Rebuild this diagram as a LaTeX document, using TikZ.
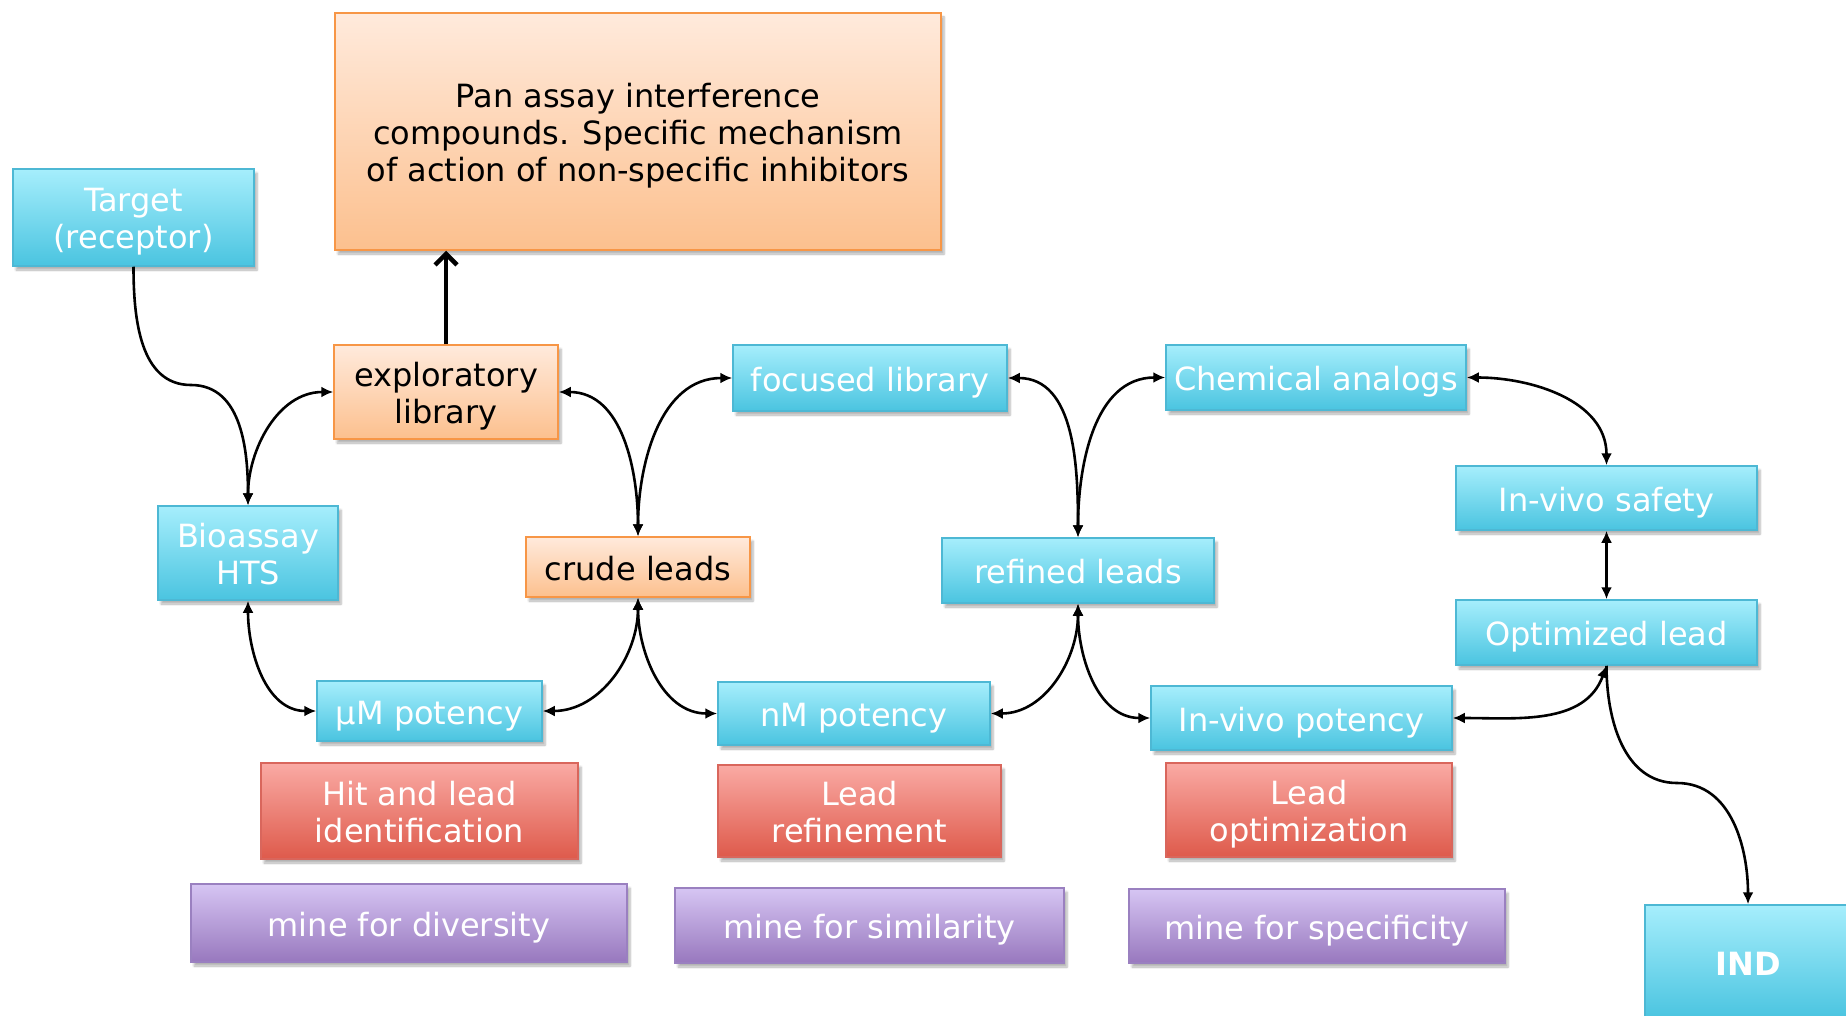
\documentclass[tikz,border=0pt]{standalone}
\usepackage{fontspec}
\setmainfont{DejaVu Sans}
\usetikzlibrary{shadows,shadows.blur,arrows.meta}
\definecolor{cyT}{HTML}{A6EEFC}
\definecolor{cyB}{HTML}{4AC4E0}
\definecolor{cyD}{HTML}{4DB8D4}
\definecolor{orT}{HTML}{FFEADC}
\definecolor{orB}{HTML}{FCC08E}
\definecolor{orD}{HTML}{F79646}
\definecolor{rdT}{HTML}{FAAAA4}
\definecolor{rdB}{HTML}{DE5A4B}
\definecolor{rdD}{HTML}{D9665C}
\definecolor{puT}{HTML}{D6C5F3}
\definecolor{puB}{HTML}{9878BE}
\definecolor{puD}{HTML}{9A80C0}
\newcommand\mytop{\rule{0pt}{34pt}}
\newcommand\mybot{\rule[-8pt]{0pt}{8pt}}
\tikzset{
  base/.style={rectangle, inner sep=0pt, align=center,
    font=\fontsize{32}{37}\selectfont, line width=1.5pt,
    blur shadow={shadow xshift=3pt, shadow yshift=-4pt, shadow blur steps=6, shadow opacity=30}},
  cybox/.style={base, draw=cyD, top color=cyT, bottom color=cyB, text=white},
  orbox/.style={base, draw=orD, top color=orT, bottom color=orB, text=black},
  rdbox/.style={base, draw=rdD, top color=rdT, bottom color=rdB, text=white},
  pubox/.style={base, draw=puD, top color=puT, bottom color=puB, text=white},
  conn/.style={line width=2.6pt, {Latex[length=12pt,width=11pt]}-{Latex[length=12pt,width=11pt]}},
  conn1/.style={line width=2.6pt, -{Latex[length=12pt,width=11pt]}},
  thick arrow/.style={line width=4.5pt, -{Straight Barb[length=11pt,width=22pt,line width=4.5pt]}},
}
\begin{document}
\begin{tikzpicture}[x=1pt,y=-1pt]
\useasboundingbox (0,0) rectangle (1846,1016);
\clip (0,0) rectangle (1846,1016);
% nodes
\node[orbox, minimum width=606, minimum height=237] (pan) at (638,131.5)
  {\mytop Pan assay interference\\compounds. Specific mechanism\\of action of non-specific inhibitors\mybot};
\node[cybox, minimum width=241, minimum height=97] (tgt) at (133.5,217.5) {\mytop Target\\(receptor)\mybot};
\node[orbox, minimum width=224, minimum height=94] (expl) at (446,392) {\mytop exploratory\\library\mybot};
\node[cybox, minimum width=180, minimum height=94] (bio) at (248,553) {\mytop Bioassay\\HTS\mybot};
\node[orbox, minimum width=224, minimum height=60] (crude) at (638,567) {\mytop crude leads\mybot};
\node[cybox, minimum width=274, minimum height=66] (foc) at (870,378) {\mytop focused library\mybot};
\node[cybox, minimum width=300, minimum height=65] (chem) at (1316,377.5) {\mytop Chemical analogs\mybot};
\node[cybox, minimum width=301, minimum height=64] (safe) at (1606.5,498) {\mytop In-vivo safety\mybot};
\node[cybox, minimum width=272, minimum height=65] (ref) at (1078,570.5) {\mytop refined leads\mybot};
\node[cybox, minimum width=301, minimum height=65] (opt) at (1606.5,632.5) {\mytop Optimized lead\mybot};
\node[cybox, minimum width=225, minimum height=60] (um) at (429.5,711) {\mytop μM potency\mybot};
\node[cybox, minimum width=272, minimum height=63] (nm) at (854,713.5) {\mytop nM potency\mybot};
\node[cybox, minimum width=301, minimum height=64] (ivp) at (1301.5,718) {\mytop In-vivo potency\mybot};
\node[rdbox, minimum width=317, minimum height=96] (hit) at (419.5,811) {\mytop Hit and lead\\identification\mybot};
\node[rdbox, minimum width=283, minimum height=92] (lref) at (859.5,811) {\mytop Lead\\refinement\mybot};
\node[rdbox, minimum width=286, minimum height=94] (lopt) at (1309,810) {\mytop Lead\\optimization\mybot};
\node[pubox, minimum width=436, minimum height=78] (div) at (409,923) {\mytop mine for diversity\mybot};
\node[pubox, minimum width=389, minimum height=75] (sim) at (869.5,925.5) {\mytop mine for similarity\mybot};
\node[pubox, minimum width=376, minimum height=74] (spec) at (1317,926) {\mytop mine for specificity\mybot};
\node[cybox, minimum width=206, minimum height=114] (ind) at (1748,962) {\mytop\bfseries IND\mybot};
% helper coordinates
\coordinate (tmid) at (191,385);
\coordinate (imid) at (1677,783);
% connectors
\draw[thick arrow] (expl.north) -- (expl.north |- pan.south);
\draw[conn1] (tgt.south) to[out=-90,in=180] (tmid) to[out=0,in=90] (bio.north);
\draw[conn] (bio.north) to[out=90,in=180] (expl.west);
\draw[conn] (bio.south) to[out=-90,in=180] (um.west);
\draw[conn] (crude.north) to[out=90,in=0] (expl.east);
\draw[conn] (crude.north) to[out=90,in=180] (foc.west);
\draw[conn] (crude.south) to[out=-90,in=0] (um.east);
\draw[conn] (crude.south) to[out=-90,in=180] (nm.west);
\draw[conn] (ref.north) to[out=90,in=0] (foc.east);
\draw[conn] (ref.north) to[out=90,in=180] (chem.west);
\draw[conn] (ref.south) to[out=-90,in=0] (nm.east);
\draw[conn] (ref.south) to[out=-90,in=180] (ivp.west);
\draw[conn] (chem.east) to[out=0,in=90] (safe.north);
\draw[conn] (safe.south) -- (opt.north);
\draw[conn] (ivp.east) to[out=0,in=-110] (opt.south);
\draw[conn1] (opt.south) to[out=-90,in=180] (imid) to[out=0,in=90] (ind.north);
\end{tikzpicture}
\end{document}
